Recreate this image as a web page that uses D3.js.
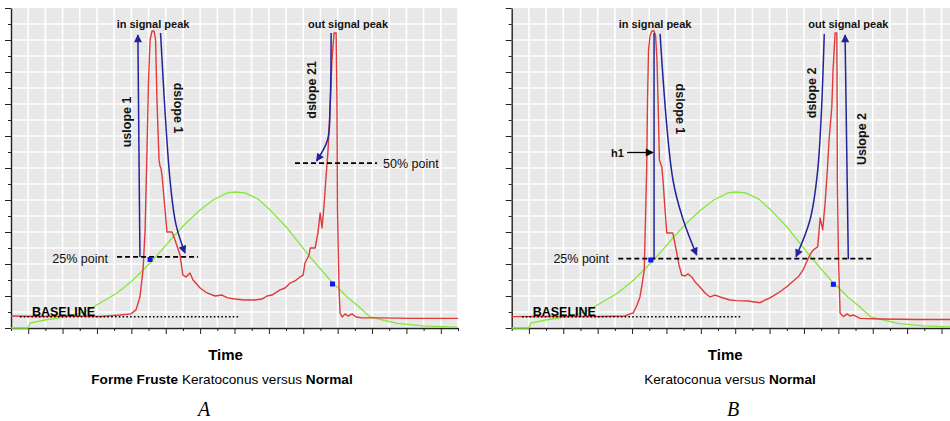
<!DOCTYPE html>
<html>
<head>
<meta charset="utf-8">
<script src="https://cdn.jsdelivr.net/npm/d3@7/dist/d3.min.js"></script>
<style>
  body { margin: 0; background: #fff; }
  svg { display: block; font-family: "Liberation Sans", Arial, sans-serif; }
</style>
</head>
<body>
<svg id="fig" width="950" height="421"></svg>
<script>
// grid cells on both axes (arbitrary time / amplitude units)
const X_TICKS = d3.range(0, 27);
const Y_TICKS = d3.range(0, 21);

// normal eye curve (green), same in both panels
const greenNormal = [
  [0, 0], [0.99, 0], [1.1, 0.31], [1.98, 0.5], [3.24, 0.71], [4.3, 1.0], [5.18, 1.56],
  [6.17, 2.19], [7.1, 3.0], [8.09, 4.06], [8.78, 4.88], [9.42, 5.69], [10.18, 6.56],
  [11.0, 7.38], [11.75, 8.0], [12.57, 8.44], [13.03, 8.5], [13.61, 8.44], [14.37, 8.06],
  [15.07, 7.38], [16.06, 6.25], [16.7, 5.38], [17.4, 4.44], [18.56, 3.0], [19.55, 1.94],
  [20.19, 1.38], [20.88, 0.69], [21.64, 0.5], [22.45, 0.29], [23.97, 0.13], [25.95, 0.06]
];

// forme fruste keratoconus (red, panel A)
const redFormeFruste = [
  [0, 0.75], [1.69, 0.72], [3.43, 0.75], [5.18, 0.72], [6.34, 0.81], [6.98, 0.88],
  [7.27, 1.13], [7.5, 1.94], [7.68, 3.63], [7.8, 6.1], [7.91, 11.1], [8.0, 15.5],
  [8.09, 18.0], [8.2, 18.56], [8.32, 18.56], [8.41, 18.0], [8.49, 14.25], [8.61, 10.5],
  [8.67, 10.1], [8.72, 10.0], [8.78, 9.56], [8.96, 7.4], [9.07, 6.0], [9.37, 6.0],
  [9.54, 5.5], [9.83, 4.56], [10.0, 3.3], [10.18, 3.19], [10.41, 3.44], [10.59, 3.0],
  [11.0, 2.5], [11.4, 2.19], [11.87, 2.0], [12.27, 2.06], [12.6, 1.88], [13.03, 1.81],
  [13.61, 1.75], [14.19, 1.75], [14.6, 1.81], [14.89, 2.0], [15.18, 2.06], [15.65, 2.38],
  [15.94, 2.5], [16.23, 2.81], [16.52, 2.94], [16.81, 3.19], [16.99, 3.31], [17.1, 4.06],
  [17.34, 4.56], [17.4, 5.0], [17.69, 5.0], [17.86, 6.0], [17.98, 7.19], [18.09, 6.25],
  [18.21, 7.69], [18.32, 9.38], [18.44, 11.1], [18.56, 13.8], [18.67, 16.75], [18.79, 18.44],
  [18.91, 18.44], [18.96, 14.25], [18.99, 7.4], [19.08, 2.38], [19.14, 0.94], [19.26, 0.69],
  [19.43, 0.88], [19.6, 0.75], [19.84, 0.88], [20.07, 0.69], [20.42, 0.63], [21.47, 0.63],
  [23.21, 0.6], [26, 0.6]
];

// keratoconus (red, panel B)
const redKeratoconus = [
  [0, 0.71], [1.65, 0.72], [3.39, 0.72], [5.14, 0.72], [6.59, 0.75], [6.88, 0.88],
  [7.07, 0.94], [7.29, 1.44], [7.46, 1.94], [7.58, 2.69], [7.71, 3.63], [7.78, 6.75],
  [7.85, 9.88], [7.9, 14.25], [7.96, 17.38], [8.05, 18.3], [8.16, 18.56], [8.28, 18.56],
  [8.37, 18.25], [8.45, 16.75], [8.54, 13.0], [8.59, 10.5], [8.73, 10.06], [8.8, 9.25],
  [8.92, 7.38], [9.02, 5.94], [9.37, 5.94], [9.6, 4.69], [9.73, 3.94], [9.89, 3.31],
  [10.08, 3.25], [10.26, 3.38], [10.47, 3.19], [10.72, 2.81], [10.95, 2.56], [11.24, 2.19],
  [11.54, 1.94], [11.83, 2.06], [12.12, 1.94], [12.7, 1.75], [13.09, 1.71], [13.75, 1.69],
  [14.45, 1.58], [14.74, 1.75], [15.03, 1.88], [15.5, 2.19], [16.0, 2.58], [16.31, 2.88],
  [16.67, 3.2], [16.95, 3.63], [17.16, 4.14], [17.41, 4.69], [17.55, 4.88], [17.8, 5.08],
  [17.94, 6.88], [18.09, 6.13], [18.23, 7.81], [18.36, 9.88], [18.46, 11.75], [18.62, 13.83],
  [18.69, 16.1], [18.81, 18.44], [18.91, 18.44], [18.93, 14.25], [18.94, 9.25], [19.01, 4.25],
  [19.1, 0.94], [19.29, 0.71], [19.51, 0.88], [19.68, 0.75], [19.87, 0.81], [20.09, 0.69],
  [20.26, 0.6], [21.42, 0.56], [23.75, 0.53], [25.96, 0.53]
];

// blue sample points
const markersA = [[8.09, 4.28], [18.7, 2.75]];
const markersB = [[8.09, 4.25], [18.71, 2.73]];

// blue slope lines (arrow at end)
const slopesA = [
  {pts: [[7.5, 4.44], [7.38, 18.31]], arrow: true},
  {pts: [[8.7, 18.44], [9.25, 9.25], [9.6, 6.44], [10.12, 4.69]], arrow: true},
  {pts: [[18.62, 18.44], [18.56, 13.81], [18.41, 11.75], [17.77, 10.44]], arrow: true}
];
const slopesB = [
  {pts: [[8.28, 18.44], [8.28, 4.38]], arrow: false},
  {pts: [[8.63, 18.38], [9.38, 9.25], [9.98, 6.75], [10.76, 4.56]], arrow: true},
  {pts: [[18.18, 18.38], [17.8, 9.88], [17.35, 6.75], [16.54, 4.46]], arrow: true},
  {pts: [[19.58, 4.29], [19.39, 18.31]], arrow: true}
];

// dashed level lines [x1, x2, y]
const levelsA = [[6.17, 10.88, 4.44], [16.52, 21.29, 10.31]];
const levelsB = [[6.2, 21.0, 4.33]];
// dotted baseline [x1, x2, y]
const baselineA = [0.52, 13.32, 0.71];
const baselineB = [0.6, 13.29, 0.71];

// labels: text, x, y, rotation, anchor, bold
const labelsA = [
  ["in signal peak", 8.26, 19.0, 0, "middle", true],
  ["out signal peak", 19.6, 19.0, 0, "middle", true],
  ["uslope 1", 6.75, 12.88, -90, "middle", true],
  ["dslope 1", 9.71, 13.75, 90, "middle", true],
  ["dslope 21", 17.51, 14.88, -90, "middle", true],
  ["25% point", 5.64, 4.31, 0, "end", false],
  ["50% point", 21.64, 10.25, 0, "start", false]
];
const labelsB = [
  ["in signal peak", 8.34, 19.0, 0, "middle", true],
  ["out signal peak", 19.58, 19.0, 0, "middle", true],
  ["dslope 1", 9.79, 13.69, 90, "middle", true],
  ["h1", 6.53, 10.94, 0, "end", true],
  ["25% point", 5.66, 4.31, 0, "end", false],
  ["dslope 2", 17.45, 14.69, -90, "middle", true],
  ["Uslope 2", 20.36, 11.81, -90, "middle", true]
];

const PLOT_W = 447, PLOT_H = 320, PLOT_TOP = 8;
const BLUE = "#23239c";

const svg = d3.select("#fig");
const defs = svg.append("defs");
function addMarker(id, color) {
  defs.append("marker")
    .attr("id", id)
    .attr("viewBox", "0 0 10 10")
    .attr("refX", 9).attr("refY", 5)
    .attr("markerUnits", "userSpaceOnUse")
    .attr("markerWidth", 9).attr("markerHeight", 8)
    .attr("orient", "auto")
    .append("path").attr("d", "M0,0 L10,5 L0,10 z").attr("fill", color);
}
addMarker("arrBlue", BLUE);
addMarker("arrBlack", "#000");

function drawPanel(cfg) {
  const g = svg.append("g").attr("transform", `translate(${cfg.left},${PLOT_TOP})`);
  const x = d3.scaleLinear().domain([0, 26]).range([0, PLOT_W]);
  const y = d3.scaleLinear().domain([0, 20]).range([PLOT_H, 0]);

  g.append("rect").attr("width", PLOT_W).attr("height", PLOT_H).attr("fill", "#e8e8e8");

  // grid
  g.selectAll(".vg").data(X_TICKS.slice(1)).enter().append("line")
    .attr("x1", d => x(d)).attr("x2", d => x(d)).attr("y1", 0).attr("y2", PLOT_H)
    .attr("stroke", "#fff").attr("stroke-width", 1.6);
  g.selectAll(".hg").data(Y_TICKS.slice(0, -1)).enter().append("line")
    .attr("y1", d => y(d)).attr("y2", d => y(d)).attr("x1", 0).attr("x2", PLOT_W)
    .attr("stroke", "#fff").attr("stroke-width", 1.6);

  // axes, no tick labels
  const yAxis = g.append("g")
    .call(d3.axisLeft(y).tickValues(Y_TICKS).tickFormat("").tickSizeOuter(0));
  yAxis.selectAll(".tick line").attr("x2", d => d % 2 ? -3 : -6);
  const xAxis = g.append("g").attr("transform", `translate(0,${PLOT_H})`)
    .call(d3.axisBottom(x).tickValues(X_TICKS).tickFormat("").tickSizeOuter(0));
  xAxis.selectAll(".tick line").attr("y2", d => d % 2 ? 6 : 3);
  g.selectAll(".domain").attr("stroke", "#222").attr("stroke-width", 1.4);
  g.selectAll(".tick line").attr("stroke", "#222");

  const line = d3.line().x(d => x(d[0])).y(d => y(d[1]));

  // green normal
  g.append("path").attr("d", line(greenNormal))
    .attr("fill", "none").attr("stroke", "#86e83a").attr("stroke-width", 1.3);
  // red patient
  g.append("path").attr("d", line(cfg.red))
    .attr("fill", "none").attr("stroke", "#e03a3a").attr("stroke-width", 1.4)
    .attr("stroke-linejoin", "round");

  // dotted baseline
  g.append("line")
    .attr("x1", x(cfg.baseline[0])).attr("x2", x(cfg.baseline[1]))
    .attr("y1", y(cfg.baseline[2])).attr("y2", y(cfg.baseline[2]))
    .attr("stroke", "#000").attr("stroke-width", 1.5).attr("stroke-dasharray", "1.6,2.2");
  g.append("text").attr("x", x(1.22)).attr("y", y(0.75))
    .attr("font-size", 12.5).attr("font-weight", "bold").text("BASELINE");

  // dashed levels
  cfg.levels.forEach(l => {
    g.append("line")
      .attr("x1", x(l[0])).attr("x2", x(l[1])).attr("y1", y(l[2])).attr("y2", y(l[2]))
      .attr("stroke", "#000").attr("stroke-width", 1.8).attr("stroke-dasharray", "5,3");
  });

  // blue slope lines
  const curve = d3.line().x(d => x(d[0])).y(d => y(d[1])).curve(d3.curveCatmullRom);
  cfg.slopes.forEach(s => {
    g.append("path").attr("d", curve(s.pts))
      .attr("fill", "none").attr("stroke", BLUE).attr("stroke-width", 1.5)
      .attr("marker-end", s.arrow ? "url(#arrBlue)" : null);
  });

  // h1 pointer
  if (cfg.h1) {
    g.append("line")
      .attr("x1", x(cfg.h1[0])).attr("x2", x(cfg.h1[1]))
      .attr("y1", y(cfg.h1[2])).attr("y2", y(cfg.h1[2]))
      .attr("stroke", "#000").attr("stroke-width", 1.3)
      .attr("marker-end", "url(#arrBlack)");
  }

  // markers
  g.selectAll(".mk").data(cfg.markers).enter().append("rect")
    .attr("x", d => x(d[0]) - 2.5).attr("y", d => y(d[1]) - 2.5)
    .attr("width", 5).attr("height", 5).attr("fill", "#1414ff");

  // labels
  cfg.labels.forEach(l => {
    g.append("text")
      .attr("transform", `translate(${x(l[1])},${y(l[2])}) rotate(${l[3]})`)
      .attr("text-anchor", l[4])
      .attr("dominant-baseline", "central")
      .attr("font-size", l[5] ? (l[3] ? 12.5 : 11) : 12.5)
      .attr("font-weight", l[5] ? "bold" : "normal")
      .attr("fill", "#111")
      .text(l[0]);
  });

  // axis title, caption, panel letter
  g.append("text").attr("x", cfg.timeX).attr("y", 360 - PLOT_TOP)
    .attr("text-anchor", "middle").attr("font-size", 15).attr("font-weight", "bold")
    .text("Time");
  const cap = g.append("text").attr("x", cfg.capX).attr("y", 384 - PLOT_TOP)
    .attr("text-anchor", "middle").attr("font-size", 13.6);
  cfg.caption.forEach(c => cap.append("tspan").attr("font-weight", c[1] ? "bold" : "normal").text(c[0]));
  g.append("text").attr("x", cfg.letterX).attr("y", 416 - PLOT_TOP)
    .attr("text-anchor", "middle").attr("font-size", 20).attr("font-style", "italic")
    .attr("font-family", "'Liberation Serif', 'Times New Roman', serif")
    .text(cfg.letter);
}

drawPanel({
  left: 11, red: redFormeFruste, markers: markersA, slopes: slopesA, levels: levelsA,
  baseline: baselineA, labels: labelsA, h1: null, timeX: 214.5,
  caption: [["Forme Fruste ", true], ["Keratoconus versus ", false], ["Normal", true]],
  capX: 211, letter: "A", letterX: 193
});
drawPanel({
  left: 511.7, red: redKeratoconus, markers: markersB, slopes: slopesB, levels: levelsB,
  baseline: baselineB, labels: labelsB, h1: [6.71, 8.22, 10.97], timeX: 213.5,
  caption: [["Keratoconua versus ", false], ["Normal", true]],
  capX: 218.3, letter: "B", letterX: 221.3
});
</script>
</body>
</html>
